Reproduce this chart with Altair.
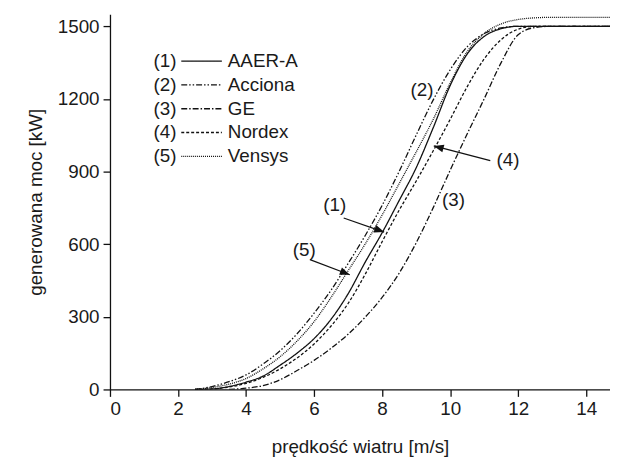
import altair as alt
import pandas as pd

# ---- data ----
speed = [2.5, 3, 3.5, 4, 4.5, 5, 5.5, 6, 6.5, 7, 7.5, 8, 8.5, 9, 9.5, 10,
         10.5, 11, 11.5, 12, 12.5, 13, 13.5, 14, 14.5, 15]
aaer = [0, 2, 12, 30, 55, 100, 150, 210, 290, 395, 525, 647, 780, 915, 1080, 1255,
        1385, 1458, 1490, 1500, 1500, 1500, 1500, 1500, 1500, 1500]
acciona = [0, 12, 32, 60, 105, 160, 230, 315, 410, 520, 635, 760, 900, 1050, 1195, 1320,
           1415, 1470, 1493, 1500, 1500, 1500, 1500, 1500, 1500, 1500]
ge = [None, None, 0, 5, 16, 40, 78, 120, 170, 228, 298, 380, 480, 605, 750, 905,
      1055, 1200, 1350, 1465, 1495, 1500, 1500, 1500, 1500, 1500]
nordex = [0, 2, 10, 25, 50, 85, 130, 188, 262, 355, 475, 610, 740, 860, 985, 1115,
          1250, 1365, 1445, 1488, 1500, 1500, 1500, 1500, 1500, 1500]
vensys = [0, 8, 22, 45, 85, 135, 200, 280, 380, 490, 600, 720, 850, 980, 1115, 1265,
          1395, 1470, 1510, 1528, 1535, 1537, 1537, 1537, 1537, 1537]

names = ["AAER-A", "Acciona", "GE", "Nordex", "Vensys"]
nums = ["(1)", "(2)", "(3)", "(4)", "(5)"]
series = [aaer, acciona, ge, nordex, vensys]
dashes = [[1, 0], [6, 2, 1.5, 2, 1.5, 2], [6, 2, 1.5, 2], [3, 2], [1, 1]]

x_ticks = [0, 1, 2, 3, 4, 5, 6, 7, 8, 9, 10, 11, 12, 13, 14]
y_ticks = [0, 150, 300, 450, 600, 750, 900, 1050, 1200, 1350, 1500]

# annotation labels (data coordinates)
ann_label = ["(1)", "(2)", "(3)", "(4)", "(5)"]
ann_v = [6.61, 9.17, 10.10, 11.70, 5.71]
ann_p = [761, 1235, 781, 949, 577]
# arrows: start -> end (data coordinates)
arr_v0 = [6.87, 11.18, 5.88]
arr_p0 = [708, 945, 536]
arr_v1 = [8.06, 9.52, 7.05]
arr_p1 = [650, 1006, 474]
arr_angle = [20, 195, 21]

rows = []
for nm, nu, vals in zip(names, nums, series):
    for s, p in zip(speed, vals):
        if p is not None:
            rows.append({"v": s, "P": p, "name": nm, "num": nu})
df = pd.DataFrame(rows)

ann = pd.DataFrame({"label": ann_label, "v": ann_v, "P": ann_p})
arr = pd.DataFrame({"v0": arr_v0, "p0": arr_p0, "v1": arr_v1, "p1": arr_p1, "ang": arr_angle})

FONT = "Liberation Sans"
TXT = "#1a1a1a"
xs = alt.Scale(domain=[0, 14.7], nice=False, zero=False)
ys = alt.Scale(domain=[0, 1550], nice=False, zero=False)

lines = alt.Chart(df).mark_line(strokeWidth=1.3, interpolate="monotone", clip=True).encode(
    x=alt.X("v:Q", scale=xs, axis=alt.Axis(
        values=x_ticks, title="prędkość wiatru [m/s]",
        tickSize={"condition": {"test": "datum.value % 2 == 0", "value": 7}, "value": 4},
        labelExpr="datum.value % 2 == 0 ? datum.label : ''",
        labelPadding=3, titlePadding=20, grid=False, orient="bottom")),
    y=alt.Y("P:Q", scale=ys, axis=alt.Axis(
        values=y_ticks, title="generowana moc [kW]", format="d",
        tickSize={"condition": {"test": "datum.value % 300 == 0", "value": 7}, "value": 4},
        labelExpr="datum.value % 300 == 0 ? datum.label : ''",
        labelPadding=4, titlePadding=12, grid=False, orient="left")),
    color=alt.Color("num:N", scale=alt.Scale(domain=nums, range=["#111"] * 5),
                    legend=alt.Legend(title=None, orient="none", legendX=25, legendY=38,
                                      symbolOpacity=0, symbolSize=1, labelOffset=0,
                                      padding=0, rowPadding=4, clipHeight=19)),
    strokeDash=alt.StrokeDash("name:N", scale=alt.Scale(domain=names, range=dashes),
                              legend=alt.Legend(title=None, orient="none", legendX=71,
                                                legendY=38, symbolType="stroke",
                                                symbolSize=1681, symbolStrokeWidth=1.3,
                                                symbolStrokeColor="#111", labelOffset=5,
                                                padding=0, rowPadding=4, clipHeight=19)),
    strokeWidth=alt.condition(alt.datum.name == "AAER-A", alt.value(1.8), alt.value(1.2)),
)

texts = alt.Chart(ann).mark_text(font=FONT, fontSize=19, color=TXT).encode(
    x=alt.X("v:Q", scale=xs), y=alt.Y("P:Q", scale=ys), text="label:N")

rules = alt.Chart(arr).mark_rule(color="#111", strokeWidth=1.2).encode(
    x=alt.X("v0:Q", scale=xs), y=alt.Y("p0:Q", scale=ys), x2="v1:Q", y2="p1:Q")

heads = alt.Chart(arr).mark_point(shape="M0,0L-2,-0.8L-2,0.8Z", filled=True, color="#111",
                                  size=100, opacity=1).encode(
    x=alt.X("v1:Q", scale=xs), y=alt.Y("p1:Q", scale=ys), angle=alt.Angle("ang:Q", scale=None))

chart = alt.layer(lines, texts, rules, heads).properties(
    width=505, height=379,
    autosize=alt.AutoSizeParams(type="none"),
    padding={"left": 103, "top": 4, "right": 0, "bottom": 68},
).configure_axis(
    labelFont=FONT, titleFont=FONT, labelFontSize=19, titleFontSize=19,
    labelColor=TXT, titleColor=TXT, titleFontWeight="normal",
    domainColor="#111", tickColor="#111", domainWidth=1.3, tickWidth=1.3,
).configure_legend(
    labelFont=FONT, labelFontSize=19, labelColor=TXT,
).configure_view(stroke=None)

chart.save("out.html", embed_options={"renderer": "svg", "actions": False})
